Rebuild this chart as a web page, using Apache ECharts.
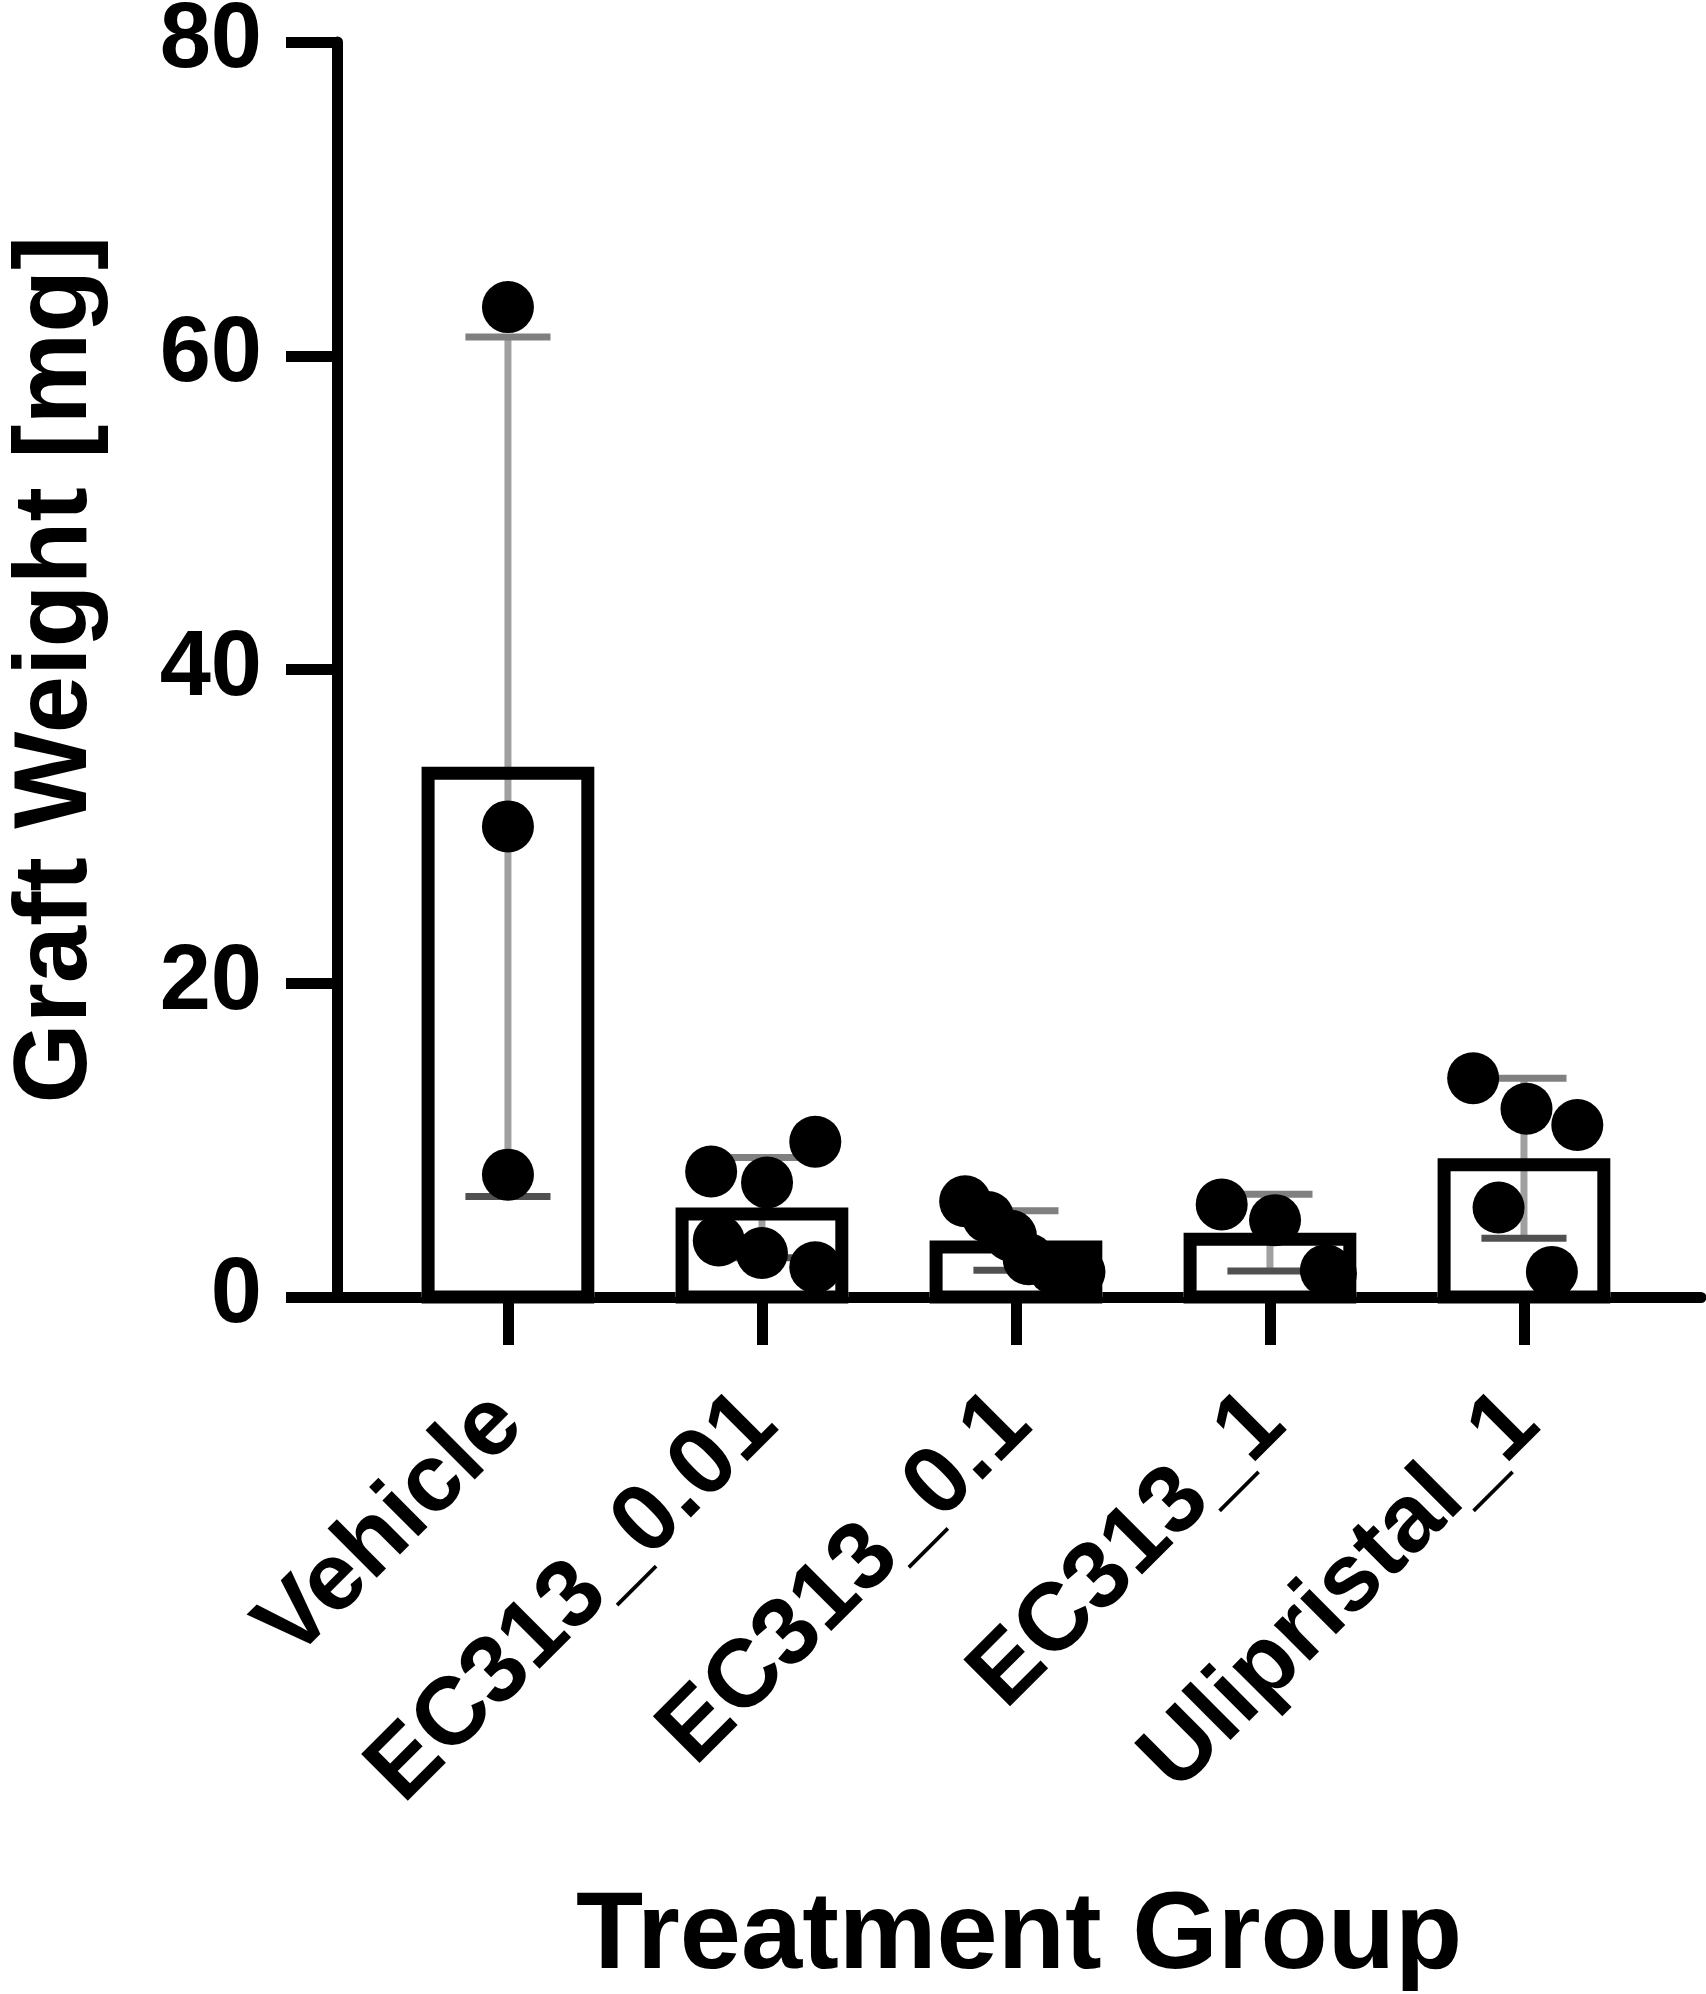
<!DOCTYPE html>
<html>
<head>
<meta charset="utf-8">
<script src="https://cdn.jsdelivr.net/npm/echarts@6/dist/echarts.min.js"></script>
<style>
html,body{margin:0;padding:0;background:#fff;}
#chart{width:1706px;height:1994px;}
</style>
</head>
<body>
<div id="chart"></div>
<script>
// 分组
const categories = ['Vehicle', 'EC313_0.01', 'EC313_0.1', 'EC313_1', 'Ulipristal_1'];
// 柱高 = 均值
const means = [33.8, 5.7, 3.6, 4.1, 8.85];
// 误差线 = SD
const sds = [27.4, 3.2, 1.9, 2.45, 5.1];
// 每组的散点
const vehiclePts = [63.1, 30.0, 7.8];
const ec001Pts = [8.0, 9.9, 7.3, 3.6, 2.8, 1.9];
const ec01Pts = [6.1, 5.1, 3.9, 2.4, 1.8, 1.6];
const ec1Pts = [5.9, 4.9, 1.7, 1.5];
const uliPts = [13.95, 12.0, 10.96, 5.7, 1.6];
// 散点横向抖动（组宽为1）
const vehicleJit = [0, 0, 0];
const ec001Jit = [-0.20, 0.21, 0.02, -0.17, 0.0, 0.21];
const ec01Jit = [-0.20, -0.11, -0.02, 0.05, 0.15, 0.25];
const ec1Jit = [-0.19, 0.02, 0.22, 0.24];
const uliJit = [-0.20, 0.01, 0.21, -0.10, 0.11];
const yTicks = [0, 20, 40, 60, 80];

const FONT = 'Liberation Sans';
const barW = 0.68;   // 柱宽（组宽单位）
const capW = 0.335;

let groups = [
  [vehiclePts, vehicleJit], [ec001Pts, ec001Jit], [ec01Pts, ec01Jit], [ec1Pts, ec1Jit], [uliPts, uliJit]
];
let scatterData = [];
groups.forEach((g, i) => {
  g[0].forEach((v, k) => scatterData.push([i + g[1][k], v]));
});

let mycharts = echarts.init(document.getElementById('chart'));
let options = {
  backgroundColor: '#fff',
  animation: false,
  grid: {left: 337, right: 5, top: 42, bottom: 697, containLabel: false, outerBoundsMode: 'none'},
  xAxis: {
    type: 'value',
    min: -0.673,
    max: 4.697,
    splitLine: {show: false},
    axisLine: {show: true, onZero: false, lineStyle: {color: '#000', width: 11}},
    axisTick: {show: true, customValues: [0, 1, 2, 3, 4], length: 48, lineStyle: {color: '#000', width: 11}},
    axisLabel: {
      customValues: [0, 1, 2, 3, 4],
      formatter: v => categories[Math.round(v)],
      rotate: 45,
      margin: 112,
      color: '#000',
      fontFamily: FONT,
      fontWeight: 'bold',
      fontSize: 96
    },
    name: 'Treatment Group',
    nameLocation: 'middle',
    nameGap: 586,
    nameTextStyle: {color: '#000', fontFamily: FONT, fontWeight: 'bold', fontSize: 110}
  },
  yAxis: {
    type: 'value',
    min: yTicks[0],
    max: yTicks[yTicks.length - 1],
    interval: 20,
    splitLine: {show: false},
    axisLine: {show: true, onZero: false, lineStyle: {color: '#000', width: 11}},
    axisTick: {show: true, length: 51, lineStyle: {color: '#000', width: 11}},
    axisLabel: {margin: 75, color: '#000', fontFamily: FONT, fontWeight: 'bold', fontSize: 92},
    name: 'Graft Weight [mg]',
    nameLocation: 'middle',
    nameGap: 228,
    nameTextStyle: {color: '#000', fontFamily: FONT, fontWeight: 'bold', fontSize: 103}
  },
  series: [
    {
      type: 'custom',
      data: categories.map((c, i) => [i, means[i], sds[i]]),
      renderItem: (params, api) => {
        let i = api.value(0), m = api.value(1), sd = api.value(2);
        let top = api.coord([i, m]);
        let base = api.coord([i, 0]);
        let hi = api.coord([i, m + sd]);
        let lo = api.coord([i, Math.max(m - sd, 0)]);
        let w = api.size([barW, 0])[0];
        let cw = api.size([capW, 0])[0];
        let lw = 13;
        let x = top[0];
        return {
          type: 'group',
          children: [
            {type: 'rect', shape: {x: x - w / 2, y: top[1], width: w, height: base[1] - top[1]}, style: {fill: '#fff'}},
            {type: 'line', shape: {x1: x, y1: hi[1], x2: x, y2: lo[1]}, style: {stroke: '#a0a0a0', lineWidth: 7}},
            {type: 'line', shape: {x1: x - cw / 2, y1: hi[1], x2: x + cw / 2, y2: hi[1]}, style: {stroke: '#808080', lineWidth: 7}},
            {type: 'line', shape: {x1: x - cw / 2, y1: lo[1], x2: x + cw / 2, y2: lo[1]}, style: {stroke: '#505050', lineWidth: 7}},
            {type: 'rect', shape: {x: x - w / 2 + lw / 2, y: top[1] + lw / 2, width: w - lw, height: base[1] - top[1] - lw / 2},
              style: {fill: 'none', stroke: '#000', lineWidth: lw}}
          ]
        };
      },
      z: 2
    },
    {
      type: 'scatter',
      data: scatterData,
      symbol: 'circle',
      symbolSize: 52,
      itemStyle: {color: '#000', opacity: 1},
      z: 3
    }
  ]
};
mycharts.setOption(options, true);
</script>
</body>
</html>
